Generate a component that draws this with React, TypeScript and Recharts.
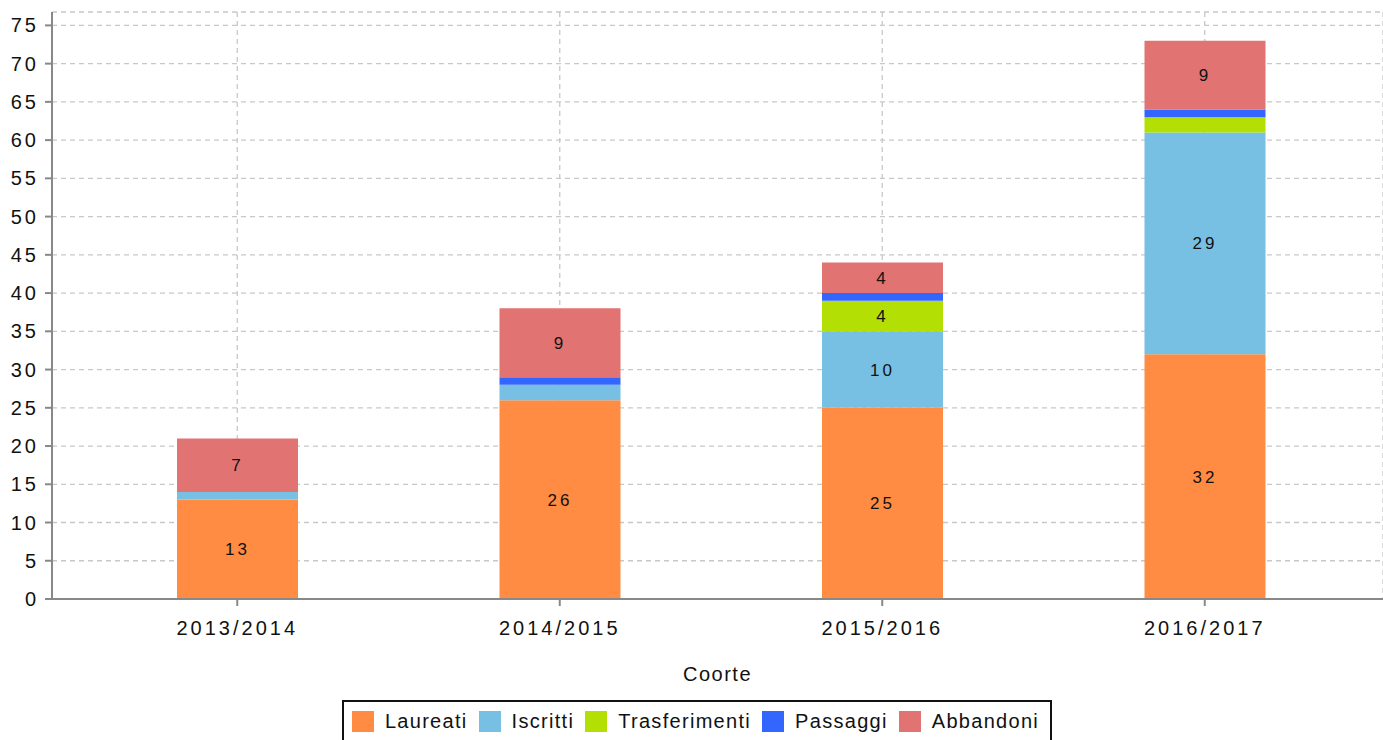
import React from 'react';
import {
  BarChart,
  Bar,
  XAxis,
  YAxis,
  CartesianGrid,
  Legend,
  LabelList,
} from 'recharts';

const cohorts = ['2013/2014', '2014/2015', '2015/2016', '2016/2017'];
const laureati = [13, 26, 25, 32];
const iscritti = [1, 2, 10, 29];
const trasferimenti = [0, 0, 4, 2];
const passaggi = [0, 1, 1, 1];
const abbandoni = [7, 9, 4, 9];
const yTicks = [0, 5, 10, 15, 20, 25, 30, 35, 40, 45, 50, 55, 60, 65, 70, 75];

const series = [
  { key: 'Laureati', color: '#FF8C42' },
  { key: 'Iscritti', color: '#77C0E3' },
  { key: 'Trasferimenti', color: '#B3DF05' },
  { key: 'Passaggi', color: '#3366FF' },
  { key: 'Abbandoni', color: '#E17373' },
];

const data = cohorts.map((c, i) => ({
  coorte: c,
  Laureati: laureati[i],
  Iscritti: iscritti[i],
  Trasferimenti: trasferimenti[i],
  Passaggi: passaggi[i],
  Abbandoni: abbandoni[i],
}));

const FONT = '"Liberation Sans", Arial, sans-serif';
const AXIS = '#888888';

const BoxLegend = () => (
  <div style={{ display: 'flex', justifyContent: 'center', height: 40, paddingLeft: 11 }}>
    <div
      style={{
        display: 'flex',
        alignItems: 'center',
        border: '2px solid #111',
        height: 42,
        padding: '0 0 0 8px',
        boxSizing: 'border-box',
        fontFamily: FONT,
        fontSize: 20,
        letterSpacing: 1.3,
        color: '#111',
        background: '#fff',
      }}
    >
      {series.map((s) => (
        <div key={s.key} style={{ display: 'flex', alignItems: 'center', marginRight: 11 }}>
          <span style={{ width: 22, height: 21, background: s.color, marginRight: 11, display: 'inline-block' }} />
          <span>{s.key}</span>
        </div>
      ))}
    </div>
  </div>
);

const showLabel = (v: any) => (Number(v) >= 3 ? v : '');

export default function App() {
  return (
    <div style={{ position: 'absolute', left: 0, top: 0, width: 1383, height: 740, background: '#fff', overflow: 'hidden' }}>
      <BarChart
        width={1383}
        height={740}
        data={data}
        margin={{ top: 12, right: 0, left: 0, bottom: 0 }}
        barSize={121}
      >
        <CartesianGrid stroke="#c8c8c8" strokeDasharray="5 4" strokeWidth={1.3} />
        <XAxis
          dataKey="coorte"
          height={101}
          padding={{ left: 24, right: 17 }}
          stroke={AXIS}
          strokeWidth={2}
          tickSize={7}
          tickMargin={15}
          tick={{ fill: '#111', fontSize: 20, fontFamily: FONT, letterSpacing: 3 }}
          label={{
            value: 'Coorte',
            position: 'insideBottom',
            offset: 19,
            style: { fill: '#111', fontSize: 20, fontFamily: FONT, letterSpacing: 1.5 },
          }}
        />
        <YAxis
          width={52}
          domain={[0, 76.75]}
          ticks={yTicks}
          interval={0}
          stroke={AXIS}
          strokeWidth={2}
          tickSize={7}
          tickMargin={6}
          tick={{ fill: '#111', fontSize: 20, fontFamily: FONT, letterSpacing: 3 }}
        />
        <Legend verticalAlign="bottom" content={<BoxLegend />} />
        {series.map((s) => (
          <Bar key={s.key} dataKey={s.key} stackId="a" fill={s.color} isAnimationActive={false}>
            <LabelList
              dataKey={s.key}
              position="center"
              formatter={showLabel}
              style={{ fill: '#111', fontSize: 17, fontFamily: FONT, letterSpacing: 3 }}
            />
          </Bar>
        ))}
      </BarChart>
    </div>
  );
}
